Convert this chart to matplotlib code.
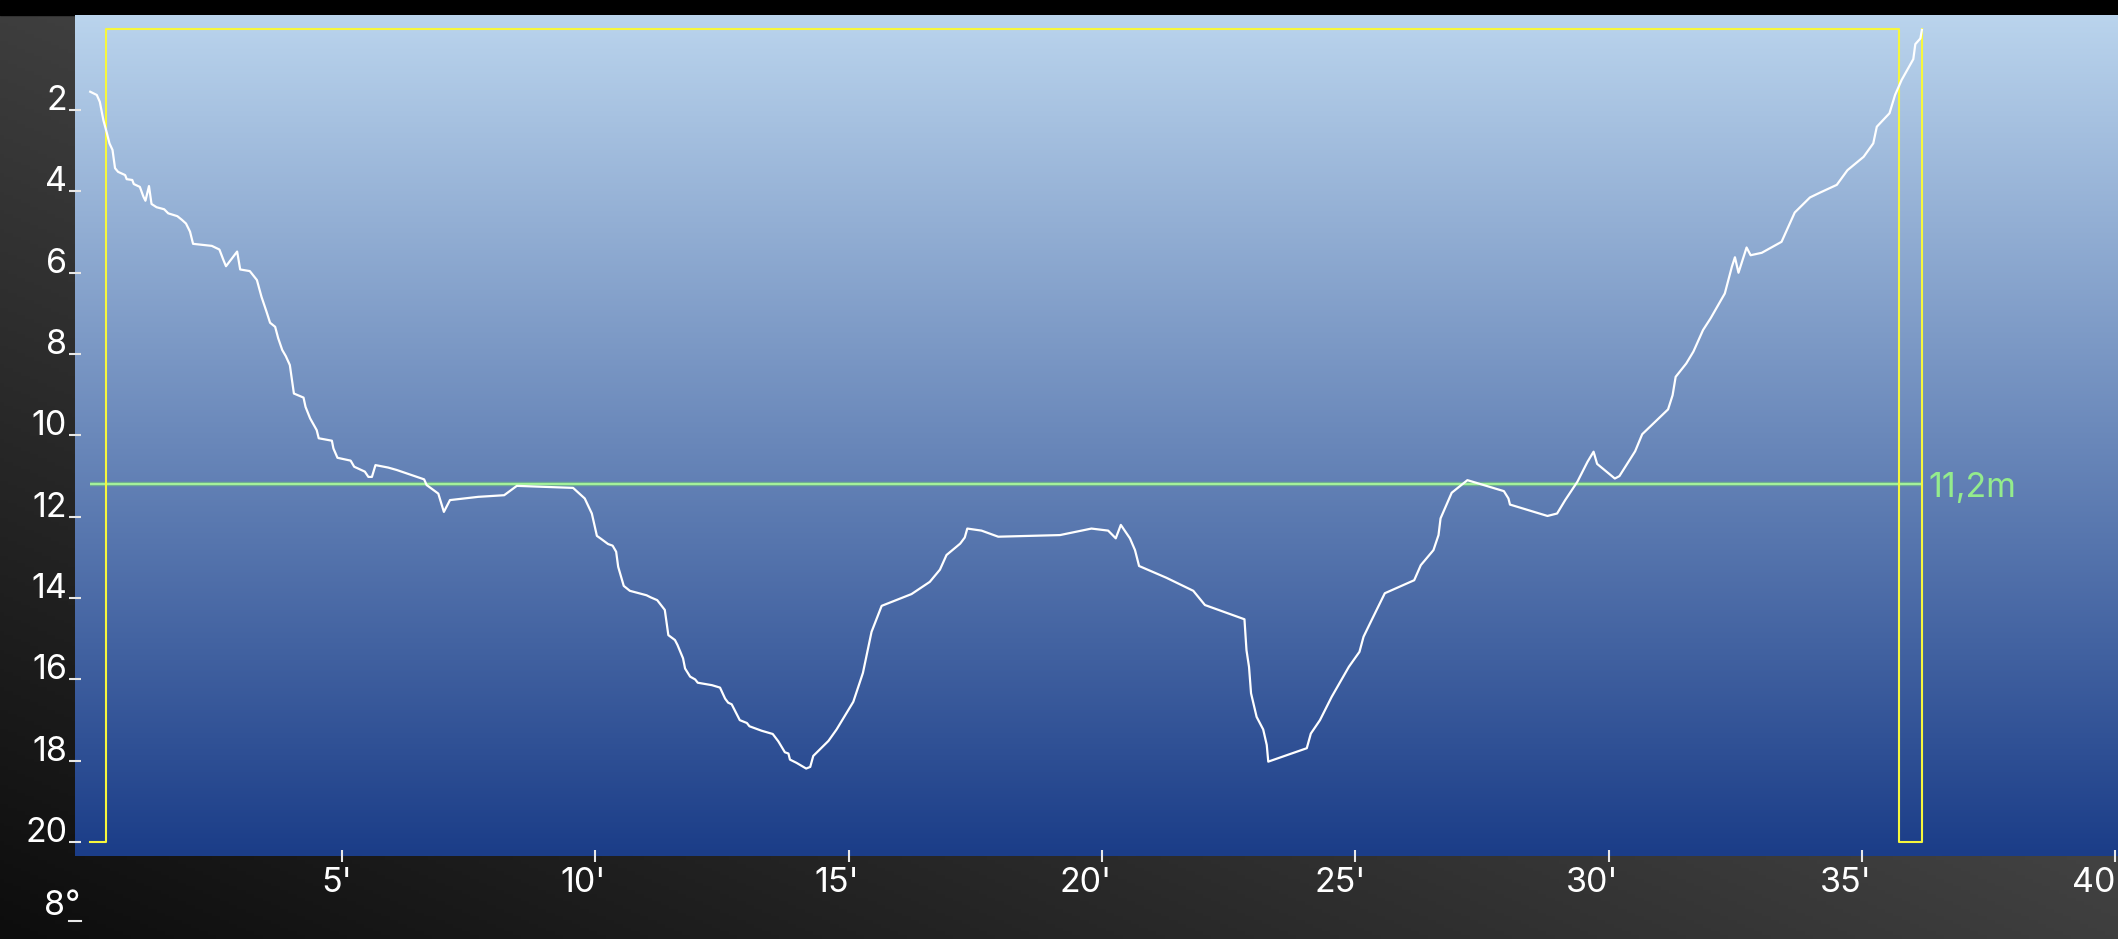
import numpy as np
import matplotlib
matplotlib.use("Agg")
import matplotlib.pyplot as plt
from matplotlib.transforms import ScaledTranslation
from matplotlib.lines import Line2D

plt.rcParams['font.family'] = ['Inter', 'Roboto', 'DejaVu Sans']

# ---------------- data ----------------
time_min = [0.03, 0.16, 0.22, 0.29, 0.36, 0.41, 0.47, 0.52, 0.58, 0.72, 0.75, 0.86, 0.89,
            1.01, 1.08, 1.12, 1.19, 1.24, 1.34, 1.49, 1.57, 1.75, 1.84, 1.92, 2.00, 2.06,
            2.43, 2.58, 2.66, 2.71, 2.93, 2.99, 3.18, 3.32, 3.41, 3.51, 3.58, 3.68, 3.74,
            3.82, 3.89, 3.97, 4.05, 4.24, 4.28, 4.37, 4.50, 4.54, 4.80, 4.83, 4.91, 5.17,
            5.24, 5.45, 5.52, 5.59, 5.66, 5.91, 6.08, 6.62, 6.67, 6.90,
            7.01, 7.13, 7.69, 8.20, 8.45, 9.56, 9.79, 9.93, 9.99, 10.03, 10.12, 10.25,
            10.34, 10.41, 10.45, 10.56, 10.68, 11.01, 11.09, 11.22, 11.37, 11.44, 11.57,
            11.62, 11.73, 11.77, 11.87, 11.97, 12.02, 12.30, 12.46, 12.56, 12.62, 12.69,
            12.85, 12.99, 13.04, 13.28, 13.50, 13.61, 13.74, 13.81, 13.84, 13.97,
            14.16, 14.24, 14.30, 14.60, 14.76, 15.09, 15.28, 15.45, 15.65, 16.24, 16.60,
            16.80, 16.93, 17.20, 17.29, 17.34, 17.62, 17.95, 19.17, 19.79, 20.12, 20.27,
            20.37, 20.55, 20.65, 20.73, 21.27, 21.80,
            22.03, 22.81, 22.85, 22.90, 22.94, 23.05, 23.18, 23.25, 23.28, 24.04, 24.12,
            24.30, 24.53, 24.87, 25.08, 25.16, 25.32, 25.58, 26.16, 26.29, 26.54, 26.64,
            26.68, 26.90, 27.21, 27.93, 28.02, 28.05, 28.79,
            28.98, 29.14, 29.38, 29.58, 29.70, 29.77, 30.12, 30.21, 30.52, 30.66, 31.17,
            31.26, 31.32, 31.53, 31.67, 31.86, 32.01,
            32.29, 32.36, 32.43, 32.49, 32.56, 32.72, 32.80, 33.02, 33.18, 33.41, 33.67,
            33.97, 34.17, 34.50, 34.71, 35.03, 35.22, 35.29, 35.54, 35.65, 35.78, 36.01,
            36.05, 36.15, 36.18]
depth_m = [1.55, 1.63, 1.80, 2.25, 2.57, 2.82, 2.98, 3.43, 3.52, 3.60, 3.70, 3.72, 3.82,
           3.89, 4.13, 4.23, 3.87, 4.31, 4.39, 4.44, 4.54, 4.61, 4.70, 4.79, 4.99, 5.29,
           5.34, 5.43, 5.69, 5.84, 5.48, 5.92, 5.96, 6.18, 6.59, 6.96, 7.23, 7.33, 7.61,
           7.90, 8.05, 8.27, 8.97, 9.07, 9.30, 9.58, 9.87, 10.07, 10.13, 10.32, 10.55, 10.62,
           10.77, 10.89, 11.02, 11.02, 10.73, 10.79, 10.85, 11.08, 11.22, 11.43,
           11.88, 11.59, 11.51, 11.47, 11.24, 11.29, 11.55, 11.92, 12.25, 12.47, 12.55, 12.67,
           12.71, 12.86, 13.23, 13.70, 13.82, 13.93, 13.98, 14.05, 14.29, 14.91, 15.03,
           15.15, 15.48, 15.73, 15.93, 16.00, 16.08, 16.14, 16.20, 16.47, 16.57, 16.61,
           17.00, 17.07, 17.15, 17.26, 17.34, 17.52, 17.79, 17.82, 17.97, 18.05,
           18.19, 18.15, 17.88, 17.51, 17.23, 16.55, 15.84, 14.83, 14.19, 13.90, 13.60,
           13.30, 12.94, 12.66, 12.51, 12.29, 12.34, 12.49, 12.45, 12.29, 12.34, 12.53,
           12.20, 12.53, 12.82, 13.21, 13.50, 13.82,
           14.17, 14.52, 15.28, 15.69, 16.34, 16.92, 17.23, 17.61, 18.02, 17.69, 17.33,
           17.00, 16.43, 15.69, 15.32, 14.95, 14.54, 13.88, 13.56, 13.19, 12.82, 12.45,
           12.04, 11.41, 11.10, 11.37, 11.55, 11.70, 11.98,
           11.92, 11.59, 11.14, 10.65, 10.40, 10.70, 11.06, 11.00, 10.39, 9.97, 9.36,
           9.01, 8.56, 8.23, 7.94, 7.41, 7.12,
           6.51, 6.18, 5.85, 5.62, 6.00, 5.38, 5.57, 5.51, 5.40, 5.24, 4.52,
           4.15, 4.03, 3.84, 3.48, 3.15, 2.82, 2.41, 2.08, 1.63, 1.26, 0.75,
           0.38, 0.24, 0.03]

dive_time = [0.03, 0.34, 0.34, 35.72, 35.72, 36.19, 36.19]
dive_depth = [20, 20, 0, 0, 20, 20, 0]

avg_depth = 11.2
avg_time = [0.03, 36.19]
avg_label = "11,2m"

x_ticks = [5, 10, 15, 20, 25, 30, 35, 40]
x_tick_labels = ["5'", "10'", "15'", "20'", "25'", "30'", "35'", "40'"]
y_ticks = [2, 4, 6, 8, 10, 12, 14, 16, 18, 20]
y_tick_labels = ["2", "4", "6", "8", "10", "12", "14", "16", "18", "20"]
temp_label = "8°"

FS = 24.5

# ---------------- figure ----------------
W, H = 2118, 939
fig = plt.figure(figsize=(W / 100, H / 100), dpi=100)

# figure background gradient
bg = fig.add_axes([0, 0, 1, 1], zorder=0)
u = np.linspace(0, 1, 500)
v = np.linspace(1, 0, 250)
U, V = np.meshgrid(u, v)
val = (13 + 49 * (U + V)) / 255.0
bg.imshow(np.dstack([val, val, val]), extent=[0, 1, 0, 1], aspect='auto', origin='upper')
bg.axhspan(1 - 15 / H, 1, color='black')
bg.set_xlim(0, 1)
bg.set_ylim(0, 1)
bg.axis('off')

# main axes
ax = fig.add_axes([75 / W, 83 / H, 1 - 75 / W, 841 / H], zorder=1)
ax.set_xlim(-0.27, 40.05)
ax.set_ylim(20.34, -0.336)

top_c = np.array([186, 212, 237]) / 255.0
bot_c = np.array([27, 61, 136]) / 255.0
s = np.linspace(0, 1, 300)[:, None]
grad = (top_c[None, :] * (1 - s) + bot_c[None, :] * s)[:, None, :]
ax.imshow(grad, extent=[0, 1, 0, 1], transform=ax.transAxes, aspect='auto',
          origin='upper', zorder=0)

for sp in ax.spines.values():
    sp.set_visible(False)

# average depth line with glow
ax.plot(avg_time, [avg_depth, avg_depth], color='#7ed87a', lw=3.2, alpha=0.55,
        solid_capstyle='butt', zorder=2)
ax.plot(avg_time, [avg_depth, avg_depth], color='#a6f39c', lw=1.4,
        solid_capstyle='butt', zorder=2)
ax.annotate(avg_label, xy=(avg_time[-1], avg_depth), xytext=(4.5, -9),
            textcoords='offset points', ha='left', va='baseline',
            color='#94ec8c', fontsize=FS, zorder=5, annotation_clip=False)

# dive time box
ax.plot(dive_time, dive_depth, color='#f7f73c', lw=1.5, zorder=3)

# depth profile
ax.plot(time_min, depth_m, color='white', lw=1.6, zorder=4, solid_joinstyle='round')

# ticks
ax.set_xticks(x_ticks)
ax.set_xticklabels(x_tick_labels)
ax.set_yticks(y_ticks)
ax.set_yticklabels(y_tick_labels)
ax.tick_params(axis='x', direction='inout', length=8, width=1.5, color='#e8e8e8',
               labelcolor='white', labelsize=FS, pad=4)
ax.tick_params(axis='y', direction='inout', length=8.4, width=1.5, color='#e8e8e8',
               labelcolor='white', labelsize=FS, pad=1.5)
shift = ScaledTranslation(10 / 100, 0, fig.dpi_scale_trans)
for lab in ax.get_xticklabels():
    lab.set_ha('right')
    lab.set_transform(lab.get_transform() + shift)
for lab in ax.get_yticklabels():
    lab.set_va('baseline')

# temperature label
fig.text(80 / W, 1 - 915 / H, temp_label, ha='right', va='baseline', color='white',
         fontsize=FS)
fig.add_artist(Line2D([69 / W, 81 / W], [1 - 921 / H, 1 - 921 / H], color='#e8e8e8',
                      lw=1.5, transform=fig.transFigure))

fig.savefig("out.png", dpi=100)
